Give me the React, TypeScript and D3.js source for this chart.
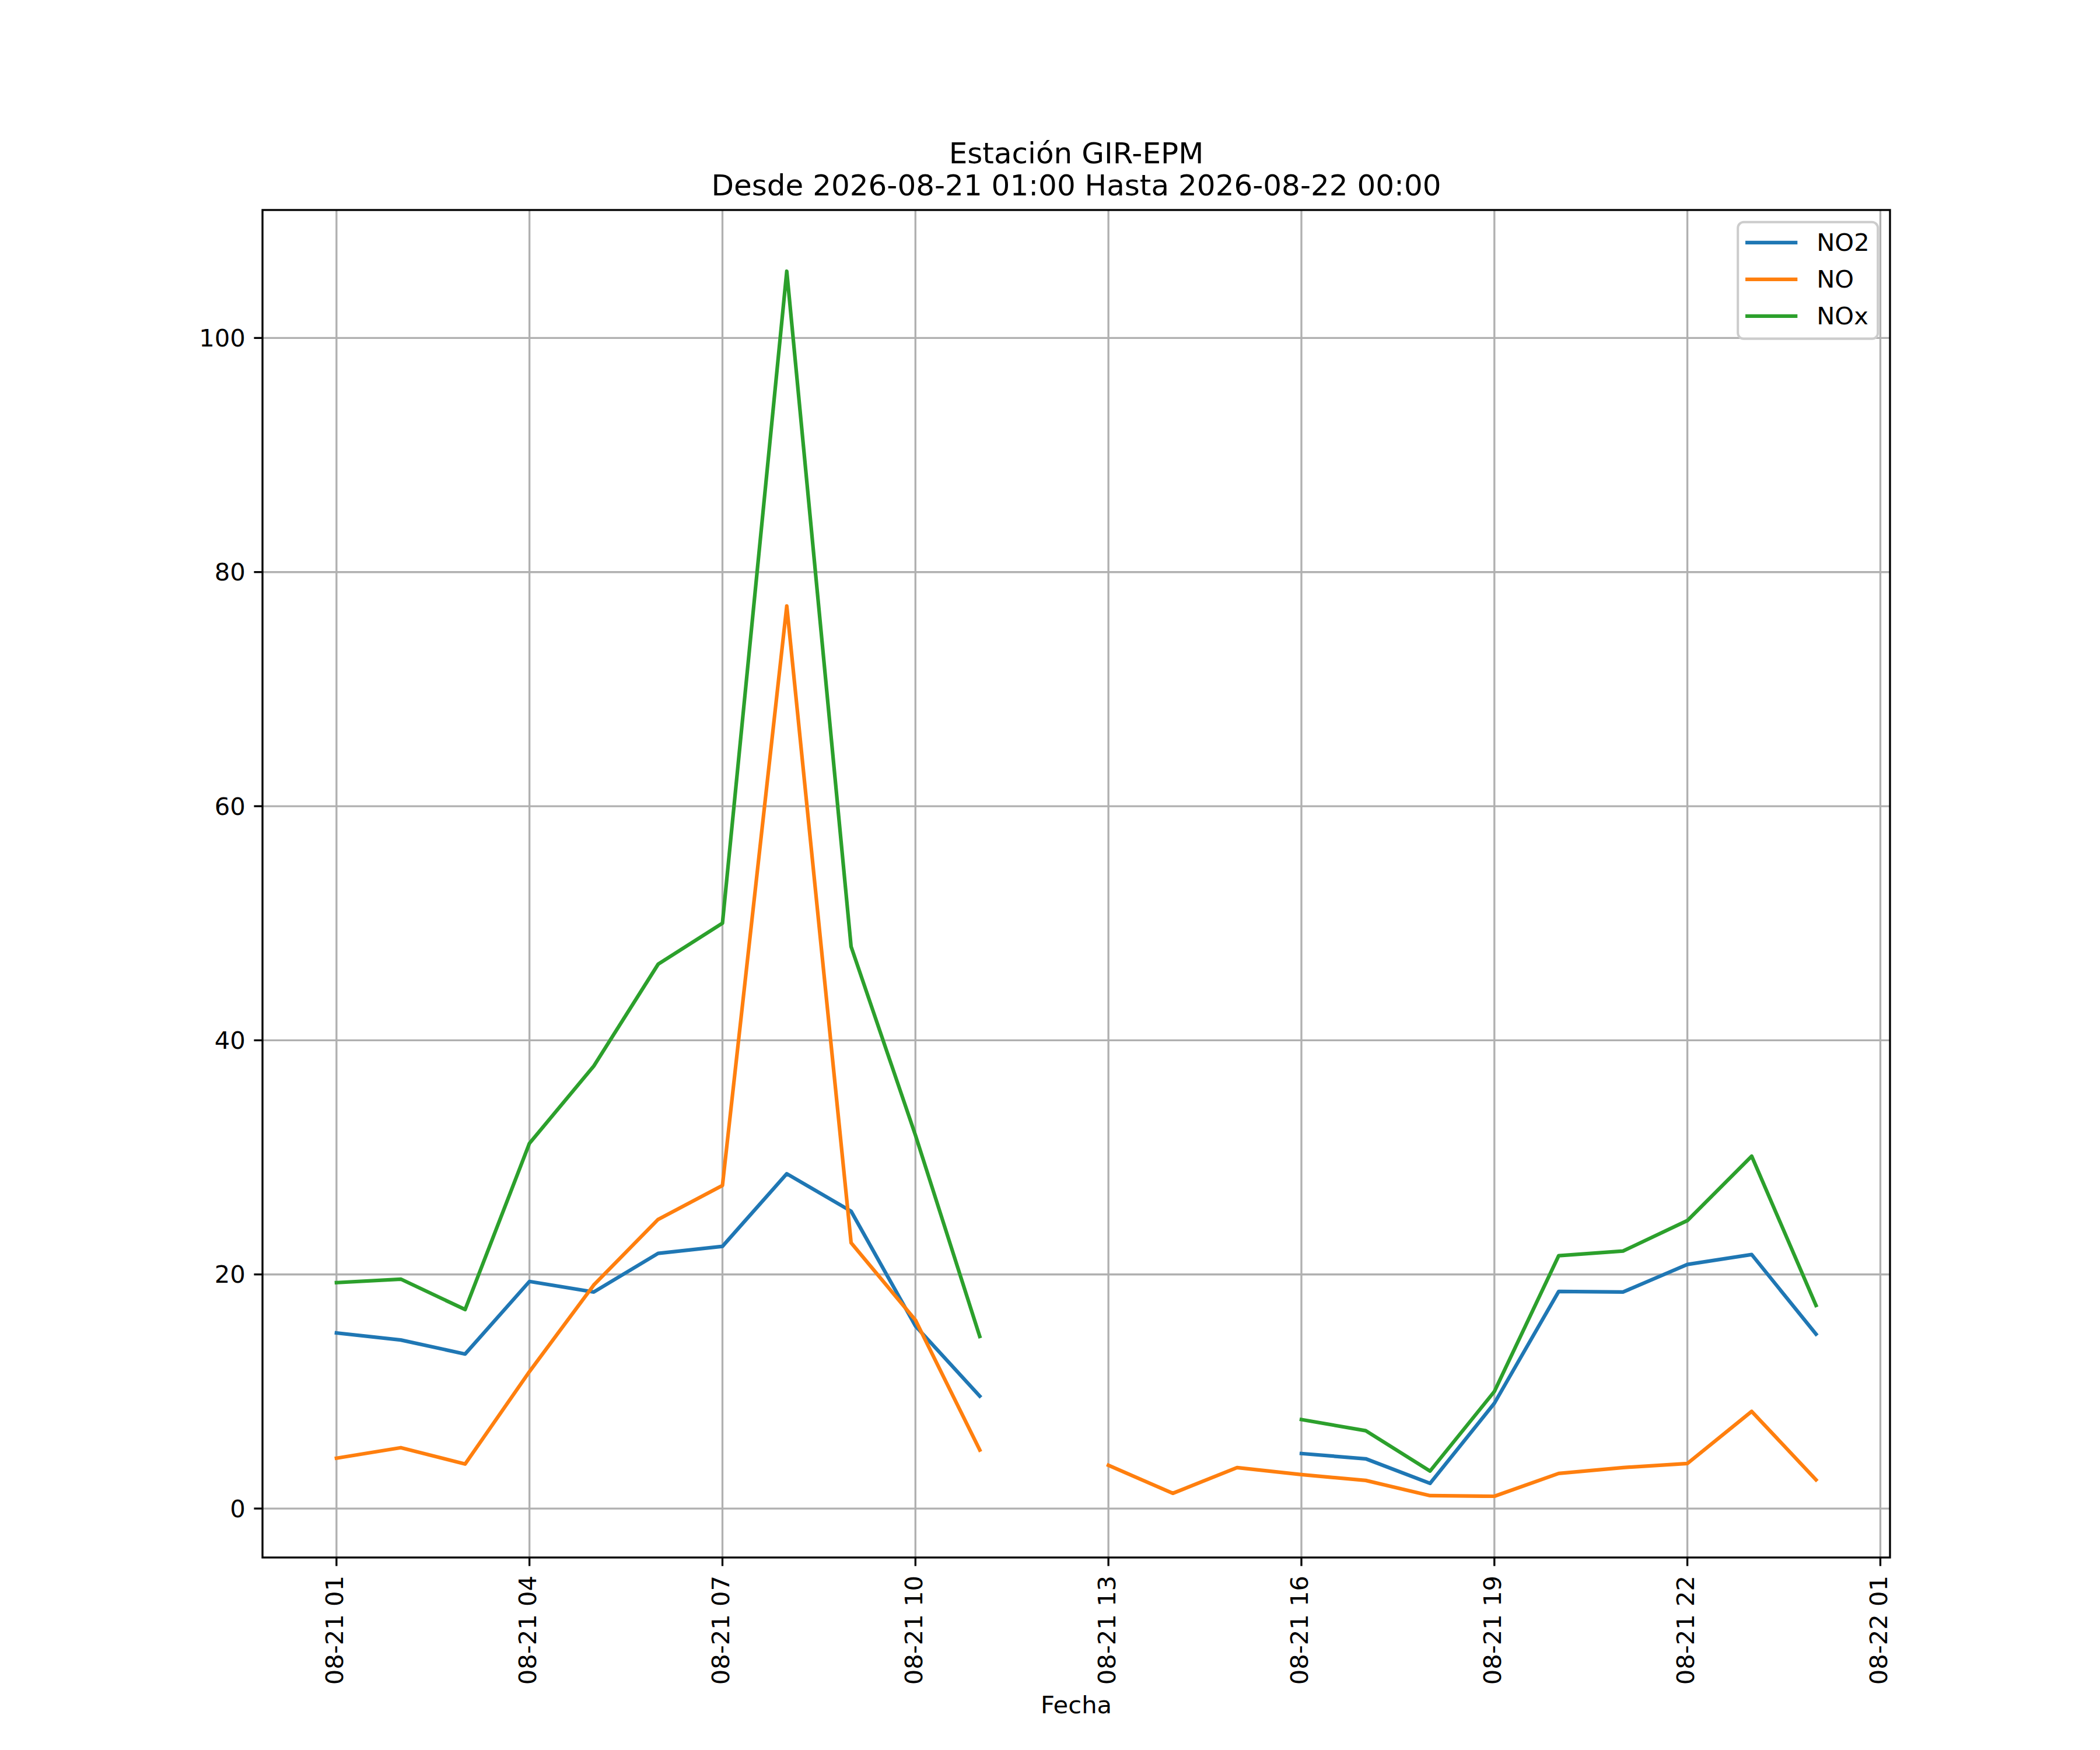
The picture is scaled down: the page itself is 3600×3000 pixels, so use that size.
import React from "react";
import * as d3 from "d3";

// hourly readings, 2026-08-21 01:00 .. 2026-08-22 00:00 (null = no data)
const hours = d3.utcHour.range(
  new Date(Date.UTC(2026, 7, 21, 1)),
  new Date(Date.UTC(2026, 7, 22, 1))
);

const no2: (number | null)[] = [
  15.0, 14.4, 13.2, 19.4, 18.5, 21.8, 22.4, 28.6, 25.4, 15.6, 9.6,
  null, null, null, null,
  4.7, 4.25, 2.15, 9.0, 18.55, 18.5, 20.85, 21.7, 14.9
];

const no: (number | null)[] = [
  4.3, 5.2, 3.8, 11.7, 19.1, 24.7, 27.6, 77.1, 22.7, 16.1, 5.0,
  null,
  3.7, 1.3, 3.5, 2.9, 2.4, 1.1, 1.05, 3.0, 3.5, 3.85, 8.3, 2.45
];

const nox: (number | null)[] = [
  19.3, 19.6, 17.0, 31.2, 37.8, 46.5, 50.0, 105.7, 48.0, 31.9, 14.7,
  null, null, null, null,
  7.6, 6.65, 3.2, 10.0, 21.6, 22.0, 24.6, 30.1, 17.35
];

const seriesNames = ["NO2", "NO", "NOx"];
const seriesColors = ["#1f77b4", "#ff7f0e", "#2ca02c"];
const seriesValues = [no2, no, nox];

const yTicks = [0, 20, 40, 60, 80, 100];

const titleLines = ["Estación GIR-EPM", "Desde 2026-08-21 01:00 Hasta 2026-08-22 00:00"];
const xLabel = "Fecha";

const W = 3600;
const H = 3000;
const margin = { left: 450, right: 3240, top: 360, bottom: 2670 };
const FONT = "DejaVu Sans, sans-serif";
const fs = 41.67;

export default function App() {
  // matplotlib-style 5% margins
  const t0 = +hours[0];
  const t1 = +hours[hours.length - 1];
  const tp = (t1 - t0) * 0.05;
  const x = d3.scaleUtc()
    .domain([new Date(t0 - tp), new Date(t1 + tp)])
    .range([margin.left, margin.right]);

  const all = seriesValues.flat().filter((v): v is number => v != null);
  const vmin = d3.min(all)!;
  const vmax = d3.max(all)!;
  const vp = (vmax - vmin) * 0.05;
  const y = d3.scaleLinear()
    .domain([vmin - vp, vmax + vp])
    .range([margin.bottom, margin.top]);

  // every third hour starting at the first reading
  const xTicks = d3.utcHour.range(new Date(t0), new Date(t1 + tp), 3);
  const fmt = d3.utcFormat("%m-%d %H");

  const line = d3.line<number | null>()
    .defined((d) => d != null)
    .x((_, i) => x(hours[i]))
    .y((d) => y(d as number));

  const cx = (margin.left + margin.right) / 2;
  const legRight = margin.right - 20.8;
  const legTop = margin.top + 20.8;

  return (
    <div style={{ position: "absolute", left: 0, top: 0 }}>
      <svg width={W} height={H} style={{ display: "block", background: "#fff" }} fontFamily={FONT}>
        <rect x={0} y={0} width={W} height={H} fill="#fff" />
        {/* grid */}
        {xTicks.map((t, i) => (
          <line key={"gx" + i} x1={x(t)} x2={x(t)} y1={margin.top} y2={margin.bottom}
            stroke="#b0b0b0" strokeWidth={3.33} />
        ))}
        {yTicks.map((v) => (
          <line key={"gy" + v} x1={margin.left} x2={margin.right} y1={y(v)} y2={y(v)}
            stroke="#b0b0b0" strokeWidth={3.33} />
        ))}

        {/* series */}
        {seriesValues.map((vals, i) => (
          <path key={seriesNames[i]} d={line(vals) || ""} fill="none"
            stroke={seriesColors[i]} strokeWidth={6.25} strokeLinejoin="round" strokeLinecap="square" />
        ))}

        {/* spines */}
        <rect x={margin.left} y={margin.top} width={margin.right - margin.left}
          height={margin.bottom - margin.top} fill="none" stroke="#000" strokeWidth={3.33} />

        {/* x ticks */}
        {xTicks.map((t, i) => (
          <g key={"xt" + i}>
            <line x1={x(t)} x2={x(t)} y1={margin.bottom} y2={margin.bottom + 14.6}
              stroke="#000" strokeWidth={3.33} />
            <text transform={`translate(${x(t) - 3},${margin.bottom + 31}) rotate(-90)`}
              textAnchor="end" dominantBaseline="central" fontSize={fs}>{fmt(t)}</text>
          </g>
        ))}

        {/* y ticks */}
        {yTicks.map((v) => (
          <g key={"yt" + v}>
            <line x1={margin.left - 14.6} x2={margin.left} y1={y(v)} y2={y(v)}
              stroke="#000" strokeWidth={3.33} />
            <text x={margin.left - 29.2} y={y(v)} textAnchor="end" dominantBaseline="central"
              fontSize={fs}>{v}</text>
          </g>
        ))}

        {/* labels */}
        <text x={cx} y={2937} textAnchor="middle" fontSize={fs}>{xLabel}</text>
        <text x={cx} y={280} textAnchor="middle" fontSize={50}>{titleLines[0]}</text>
        <text x={cx} y={335} textAnchor="middle" fontSize={50}>{titleLines[1]}</text>

        {/* legend */}
        <rect x={legRight - 240} y={legTop} width={240} height={200} rx={10} ry={10}
          fill="#fff" fillOpacity={0.8} stroke="#cccccc" strokeWidth={4} />
        {seriesNames.map((name, i) => {
          const ly = legTop + 35 + i * 63;
          return (
            <g key={"lg" + name}>
              <line x1={legRight - 224} x2={legRight - 141} y1={ly} y2={ly}
                stroke={seriesColors[i]} strokeWidth={6.25} strokeLinecap="square" />
              <text x={legRight - 105} y={ly} dominantBaseline="central" fontSize={fs}>{name}</text>
            </g>
          );
        })}
      </svg>
    </div>
  );
}
